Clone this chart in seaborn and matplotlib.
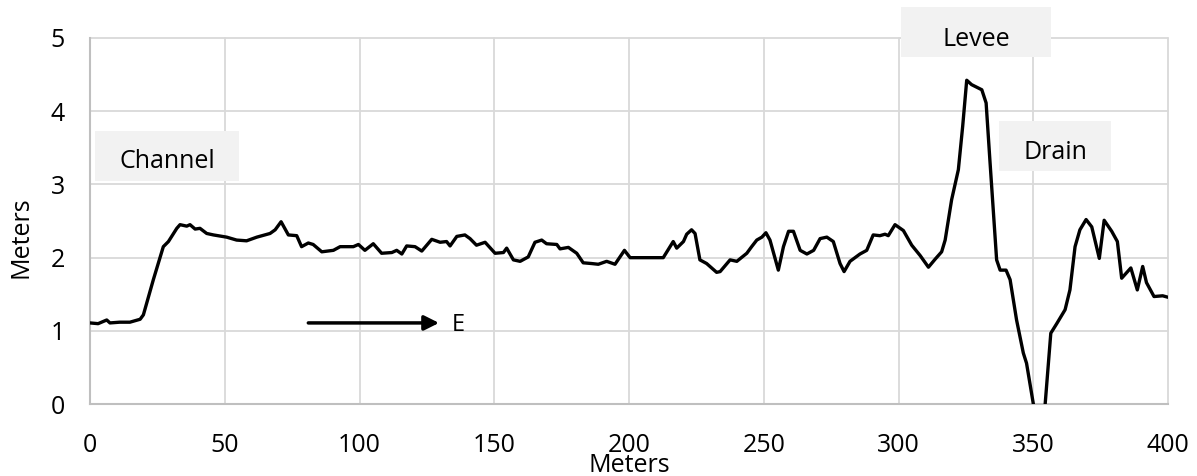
import matplotlib
matplotlib.use("Agg")
import matplotlib.pyplot as plt
from matplotlib.patches import Rectangle
import seaborn as sns
import pandas as pd

# Cross-section profile: distance along transect (m) and elevation (m)
distance_m = [
    0, 3, 6.2, 7.4, 11, 14.8, 18.6, 19.8, 23.5, 27.2, 29.1, 32.2, 33.4, 35.9,
    37.1, 39.0, 40.8, 43.3, 45.8, 50.7, 54.4, 58.1, 61.9, 66.8, 68.7, 70.9,
    73.6, 76.7, 78.5, 81.0, 82.8, 86.0, 90.3, 92.8, 95.3, 97.7, 99.6, 102.0,
    105.1, 108.2, 112.0, 113.8, 115.7, 117.5, 120.6, 123.1, 126.8, 129.9,
    132.3, 133.6, 136.1, 139.1, 141.0, 143.4, 146.6, 150.3, 153.4, 154.6,
    157.1, 159.6, 162.6, 165.1, 167.6, 169.4, 173.2, 174.4, 177.5, 180.6,
    183.0, 186.1, 188.6, 191.7, 194.8, 198.3, 200.4, 212.7, 216.4, 217.7,
    220.2, 221.4, 223.2, 224.5, 226.3, 228.8, 232.5, 233.8, 237.5, 240.0,
    243.7, 245.5, 247.4, 249.3, 250.8, 252.3, 255.4, 257.3, 259.2, 261.0,
    263.5, 266.0, 268.5, 270.9, 273.4, 275.8, 278.3, 279.8, 282.0, 285.7,
    288.2, 290.6, 293.1, 295.0, 296.2, 298.7, 301.8, 304.9, 308.0, 311.1,
    313.6, 316.0, 317.3, 319.7, 322.2, 323.8, 325.3, 327.1, 330.9, 332.5,
    333.9, 336.4, 337.7, 339.9, 341.4, 343.8, 346.3, 347.5, 350.0, 352.2,
    354.4, 356.5, 358.7, 361.8, 363.6, 365.5, 367.3, 369.6, 371.7, 374.5,
    376.3, 379.1, 381.2, 382.8, 386.2, 388.6, 390.6, 392.0, 394.8, 398.0,
    400.0,
]
elevation_m = [
    1.11, 1.10, 1.15, 1.11, 1.12, 1.12, 1.16, 1.22, 1.70, 2.15, 2.22, 2.40,
    2.45, 2.43, 2.45, 2.39, 2.40, 2.33, 2.31, 2.28, 2.24, 2.23, 2.28, 2.33,
    2.38, 2.49, 2.31, 2.30, 2.15, 2.20, 2.18, 2.08, 2.10, 2.15, 2.15, 2.15,
    2.18, 2.10, 2.19, 2.06, 2.07, 2.10, 2.05, 2.16, 2.15, 2.09, 2.25, 2.21,
    2.22, 2.16, 2.29, 2.31, 2.26, 2.17, 2.21, 2.06, 2.07, 2.13, 1.97, 1.95,
    2.01, 2.21, 2.24, 2.19, 2.18, 2.12, 2.14, 2.06, 1.93, 1.92, 1.91, 1.95,
    1.91, 2.10, 2.00, 2.00, 2.22, 2.13, 2.22, 2.32, 2.38, 2.33, 1.97, 1.92,
    1.80, 1.81, 1.97, 1.95, 2.06, 2.15, 2.24, 2.28, 2.34, 2.24, 1.83, 2.15,
    2.36, 2.36, 2.10, 2.05, 2.10, 2.26, 2.28, 2.22, 1.92, 1.81, 1.95, 2.05,
    2.10, 2.31, 2.30, 2.32, 2.30, 2.45, 2.37, 2.17, 2.03, 1.87, 1.98, 2.08,
    2.24, 2.79, 3.20, 3.79, 4.42, 4.36, 4.29, 4.11, 3.33, 1.97, 1.83, 1.83,
    1.70, 1.15, 0.70, 0.56, 0.01, -0.45, 0.00, 0.97, 1.10, 1.29, 1.56, 2.15,
    2.38, 2.52, 2.42, 1.99, 2.51, 2.36, 2.22, 1.72, 1.86, 1.56, 1.88, 1.66,
    1.47, 1.48, 1.46,
]

x_ticks = [0, 50, 100, 150, 200, 250, 300, 350, 400]
y_ticks = [0, 1, 2, 3, 4, 5]

# Feature labels: text, x centre, text baseline
feature_labels = ["Channel", "Levee", "Drain"]
feature_x = [28.6, 328.8, 358.1]
feature_y = [3.22, 4.89, 3.34]

df = pd.DataFrame({"Distance": distance_m, "Elevation": elevation_m})

sns.set_style("white")
plt.rcParams["font.family"] = ["Open Sans", "DejaVu Sans"]
plt.rcParams["text.color"] = "black"
plt.rcParams["axes.labelcolor"] = "black"

fig = plt.figure(figsize=(11.97, 4.76), dpi=100)
ax = fig.add_axes([0.0752, 0.1506, 0.9006, 0.7702])

sns.lineplot(data=df, x="Distance", y="Elevation", color="black",
             linewidth=2.4, estimator=None, sort=False, ax=ax, zorder=3)

ax.set_xlim(0, 400)
ax.set_ylim(0, 5)
ax.set_xticks(x_ticks)
ax.set_yticks(y_ticks)
ax.grid(True, color="#d9d9d9", linewidth=1.3)
for gl in ax.get_xgridlines() + ax.get_ygridlines():
    gl.set_clip_on(False)
ax.set_axisbelow(True)

for side in ["top", "right"]:
    ax.spines[side].set_visible(False)
for side in ["left", "bottom"]:
    ax.spines[side].set_color("#bfbfbf")
    ax.spines[side].set_linewidth(1.5)

ax.tick_params(axis="both", length=0, labelsize=18, colors="black")
ax.tick_params(axis="x", pad=21)
ax.tick_params(axis="y", pad=18)
ax.set_xlabel("Meters", fontsize=18, labelpad=-4, color="black")
ax.set_ylabel("Meters", fontsize=18, color="black")
ax.yaxis.set_label_coords(-0.052, 0.456)

# Grey label boxes (half-width, height above / below baseline in data units)
box_half_w = [26.7, 27.8, 20.8]
box_top = [0.51, 0.53, 0.53]
box_bottom = [0.17, 0.15, 0.16]
for label, x, y, hw, bt, bb in zip(feature_labels, feature_x, feature_y,
                                    box_half_w, box_top, box_bottom):
    ax.add_patch(Rectangle((x - hw, y - bb), 2 * hw, bt + bb,
                           facecolor="#f2f2f2", edgecolor="none",
                           zorder=2.5, clip_on=False))
    ax.text(x, y, label, ha="center", va="baseline", fontsize=18,
            color="black", zorder=4, clip_on=False)

# Direction arrow
ax.annotate("", xy=(129.5, 1.11), xytext=(81, 1.11),
            arrowprops=dict(arrowstyle="-|>", color="black", lw=2.5,
                            mutation_scale=22, shrinkA=0, shrinkB=0))
ax.text(134.2, 1.0, "E", ha="left", va="baseline", fontsize=17,
        color="black")

fig.savefig("out.png", dpi=100)
